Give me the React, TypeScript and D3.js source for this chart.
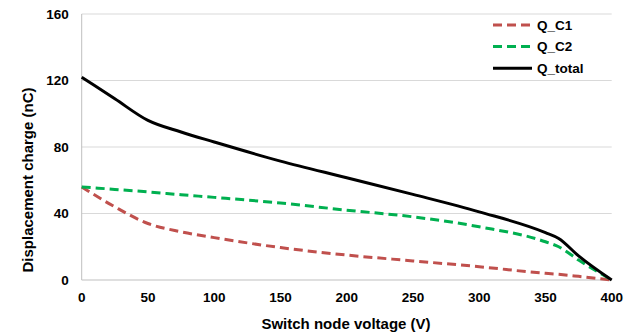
import * as d3 from 'd3';

// voltage steps (V)
const voltage = [0, 25, 50, 75, 100, 150, 200, 250, 300, 350, 360, 375, 400];
const qC1 = [56, 44, 34, 29, 25.5, 19.5, 15, 11.5, 8, 4, 3.4, 2.2, 0];
const qC2 = [56, 54.5, 53, 51.3, 49.7, 46.3, 42, 38, 32, 23, 20, 12, 0];
const qTotal = [122, 109, 96, 89, 83, 71.5, 61.5, 51.5, 41, 28.5, 25, 14.5, 0];

const xTicks = [0, 50, 100, 150, 200, 250, 300, 350, 400];
const yTicks = [0, 40, 80, 120, 160];

const series = [
  { name: 'Q_C1', values: qC1, color: '#C0504D', dash: '9,5' },
  { name: 'Q_C2', values: qC2, color: '#00B050', dash: '9,5' },
  { name: 'Q_total', values: qTotal, color: '#000000', dash: null },
];

const W = 631;
const H = 335;
const margin = { top: 14, right: 19, bottom: 55, left: 81.7 };

export default function App() {
  const innerW = 611.7 - margin.left;
  const innerH = 280 - margin.top;

  const xScale = d3.scaleLinear().domain([0, 400]).range([0, innerW]);
  const yScale = d3.scaleLinear().domain([0, 160]).range([innerH, 0]);

  const line = d3.line<number>()
    .x((_, i) => xScale(voltage[i]))
    .y(d => yScale(d))
    .curve(d3.curveMonotoneX);

  const font = 'Arial, "Liberation Sans", sans-serif';

  return (
    <svg width={W} height={H} style={{ position: 'absolute', left: 0, top: 0 }} fontFamily={font}>
      <g transform={`translate(${margin.left},${margin.top})`}>
        {yTicks.filter(t => t > 0).map(t => (
          <line key={t} x1={0} x2={innerW} y1={yScale(t)} y2={yScale(t)} stroke="#d9d9d9" strokeWidth={1} />
        ))}
        <line x1={0} x2={innerW} y1={innerH} y2={innerH} stroke="#bfbfbf" strokeWidth={1} />
        <line x1={0} x2={0} y1={0} y2={innerH} stroke="#bfbfbf" strokeWidth={1} />

        {yTicks.map(t => (
          <text key={t} x={-13} y={yScale(t)} dy="0.35em" textAnchor="end" fontSize={13.5} fontWeight="bold" fill="#000">
            {t}
          </text>
        ))}
        {xTicks.map(t => (
          <text key={t} x={xScale(t)} y={innerH + 22} textAnchor="middle" fontSize={13.5} fontWeight="bold" fill="#000">
            {t}
          </text>
        ))}

        {series.map(s => (
          <path
            key={s.name}
            d={line(s.values) || ''}
            fill="none"
            stroke={s.color}
            strokeWidth={3}
            strokeDasharray={s.dash || undefined}
          />
        ))}
      </g>

      <text x={346} y={329} textAnchor="middle" fontSize={15} fontWeight="bold" fill="#000">
        Switch node voltage (V)
      </text>
      <text transform={`translate(33,180) rotate(-90)`} textAnchor="middle" fontSize={15} fontWeight="bold" fill="#000">
        Displacement charge (nC)
      </text>

      {series.map((s, i) => (
        <g key={s.name} transform={`translate(493,${25 + i * 21.6})`}>
          <line x1={0} x2={39} y1={0} y2={0} stroke={s.color} strokeWidth={3} strokeDasharray={s.dash || undefined} />
          <text x={44} y={0} dy="0.35em" fontSize={13.5} fontWeight="bold" fill="#000">{s.name}</text>
        </g>
      ))}
    </svg>
  );
}
